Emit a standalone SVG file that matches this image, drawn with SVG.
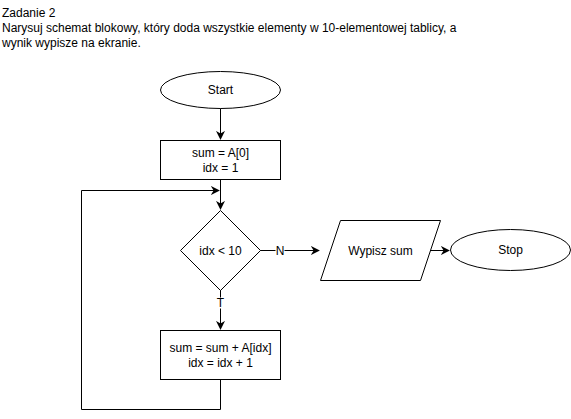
<svg xmlns="http://www.w3.org/2000/svg" width="571" height="419" viewBox="0 0 571 419">
<style>
text{font-family:"Liberation Sans",Arial,sans-serif;font-size:12px;fill:#000}
.c{text-anchor:middle;dominant-baseline:central}
.s{fill:#fff;stroke:#000;stroke-width:1}
.e{fill:none;stroke:#000;stroke-width:1}
.lb{fill:#fff}
</style>
<defs>
<marker id="a" viewBox="0 0 10 10" refX="9" refY="5" markerWidth="9" markerHeight="9" markerUnits="userSpaceOnUse" orient="auto">
<path d="M0,0 L10,5 L0,10 L3,5 Z" fill="#000"/>
</marker>
</defs>
<rect width="571" height="419" fill="#fff"/>
<g id="title">
<text x="2" y="17">Zadanie 2</text>
<text x="2" y="32">Narysuj schemat blokowy, który doda wszystkie elementy w 10-elementowej tablicy, a</text>
<text x="2" y="47">wynik wypisze na ekranie.</text>
</g>
<g id="connectors">
<path class="e" d="M220.5,108 V139" marker-end="url(#a)"/>
<path class="e" d="M220.5,180 V209" marker-end="url(#a)"/>
<path class="e" d="M260,250.5 H319" marker-end="url(#a)"/>
<path class="e" d="M430,250.5 H449" marker-end="url(#a)"/>
<path class="e" d="M220.5,290 V329" marker-end="url(#a)"/>
<path class="e" d="M220.5,380 V409.5 H81.5 V190.5 H219" marker-end="url(#a)"/>
<rect class="lb" x="275.5" y="244" width="9" height="13"/>
<text class="c" x="280" y="250.5">N</text>
<rect class="lb" x="214" y="297.5" width="13" height="11"/>
<text class="c" x="220.5" y="303">T</text>
</g>
<g id="start">
<ellipse class="s" cx="220.5" cy="90" rx="60" ry="18.5"/>
<text class="c" x="220.5" y="90">Start</text>
</g>
<g id="init">
<rect class="s" x="160.5" y="140.5" width="120" height="39"/>
<text class="c" x="220.5" y="153">sum = A[0]</text>
<text class="c" x="220.5" y="168">idx = 1</text>
</g>
<g id="cond">
<path class="s" d="M220.5,210.5 L260.5,250.5 L220.5,290.5 L180.5,250.5 Z"/>
<text class="c" x="220.5" y="250.5">idx &lt; 10</text>
</g>
<g id="output">
<path class="s" d="M340.5,220.5 H440.5 L420.5,280.5 H320.5 Z"/>
<text class="c" x="380.5" y="250.5">Wypisz sum</text>
</g>
<g id="stop">
<ellipse class="s" cx="510.5" cy="250" rx="60" ry="20.5"/>
<text class="c" x="510.5" y="250">Stop</text>
</g>
<g id="body">
<rect class="s" x="160.5" y="330.5" width="120" height="49"/>
<text class="c" x="220.5" y="348">sum = sum + A[idx]</text>
<text class="c" x="220.5" y="363">idx = idx + 1</text>
</g>
</svg>
